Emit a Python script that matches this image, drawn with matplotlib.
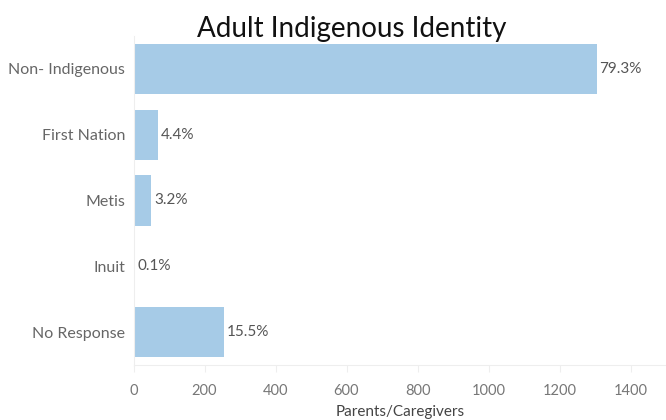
import matplotlib
matplotlib.use("Agg")
import matplotlib.pyplot as plt

categories = ["Non- Indigenous", "First Nation", "Metis", "Inuit", "No Response"]
counts = [1305, 70, 50, 2, 256]
pct_labels = ["79.3%", "4.4%", "3.2%", "0.1%", "15.5%"]
x_ticks = [0, 200, 400, 600, 800, 1000, 1200, 1400]

plt.rcParams['font.family'] = ['Lato', 'DejaVu Sans']

fig = plt.figure(figsize=(6.66, 4.2), dpi=100)
ax = fig.add_axes([133.5/666, 1 - 365/420, (666-133.5)/666, (365-36)/420])

y = list(range(len(categories)))
ax.barh(y, counts, height=0.76, color="#a6cbe7", edgecolor="none")
ax.set_ylim(4.5, -0.5)
ax.set_xlim(0, 1500)
ax.set_yticks(y)
ax.set_yticklabels(categories, fontsize=11.5, color="#666666")
ax.set_xticks(x_ticks)
ax.set_xticklabels([str(t) for t in x_ticks], fontsize=10.5, color="#777777")
ax.tick_params(axis='y', length=0, pad=6)
ax.tick_params(axis='x', length=5, color="#eeeeee", pad=9, direction='out')

for s in ["top", "right"]:
    ax.spines[s].set_visible(False)
ax.spines["left"].set_color("#eeeeee")
ax.spines["bottom"].set_color("#eeeeee")

for yi, c, lab in zip(y, counts, pct_labels):
    ax.text(c + 8, yi, lab, va="center", ha="left", fontsize=11, color="#555555")

ax.set_xlabel("Parents/Caregivers", fontsize=11, color="#444444", labelpad=5)
fig.text(352/666, 1 - 29/420, "Adult Indigenous Identity", ha="center", va="center",
         fontsize=20, color="#111111")

fig.savefig("out.png", dpi=100)
